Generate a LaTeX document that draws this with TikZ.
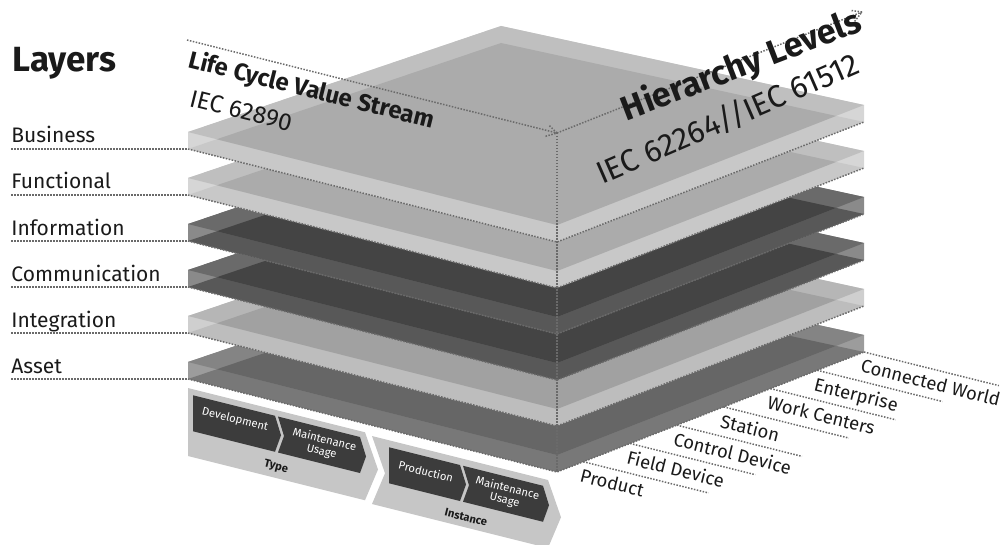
\documentclass[tikz,border=0pt]{standalone}
\usepackage{fontspec}
\setmainfont{Fira Sans}
\usetikzlibrary{calc}
\definecolor{dotgray}{HTML}{6A6A6A}
\definecolor{txt}{HTML}{1A1A1A}
\definecolor{bandgray}{HTML}{C6C6C6}
\definecolor{boxdark}{HTML}{3C3C3C}
% light slabs
\definecolor{lE}{HTML}{D6D6D6}\definecolor{lA}{HTML}{BFBFBF}\definecolor{lB}{HTML}{ABABAB}\definecolor{lC}{HTML}{C8C8C8}
% integration
\definecolor{gE}{HTML}{CFCFCF}\definecolor{gA}{HTML}{B6B6B6}\definecolor{gB}{HTML}{A1A1A1}\definecolor{gC}{HTML}{BDBDBD}
% dark slabs
\definecolor{dE}{HTML}{8A8A8A}\definecolor{dA}{HTML}{6A6A6A}\definecolor{dB}{HTML}{444444}\definecolor{dC}{HTML}{585858}
% asset
\definecolor{aE}{HTML}{9C9C9C}\definecolor{aA}{HTML}{848484}\definecolor{aB}{HTML}{666666}\definecolor{aC}{HTML}{787878}
\newcommand\drawslab[6]{%
\begin{scope}[shift={(0,#2)}]
\coordinate (#1L) at (188,132); \coordinate (#1B) at (501,26);
\coordinate (#1R) at (864,105); \coordinate (#1F) at (557,225);
\coordinate (#1Ld) at (188,149); \coordinate (#1Bd) at (501,43);
\coordinate (#1Rd) at (864,122); \coordinate (#1Fd) at (557,242);
\fill[#3] (#1L)--(#1B)--(#1R)--(#1Rd)--(#1Fd)--(#1Ld)--cycle;
\fill[#6] (#1Ld)--(#1Bd)--(#1Rd)--(#1Fd)--cycle;
\fill[#4] (#1L)--(#1B)--(#1R)--(#1F)--cycle;
\begin{scope}
\clip (#1Ld)--(#1Bd)--(#1Rd)--(#1Fd)--cycle;
\fill[#5] (#1L)--(#1B)--(#1R)--(#1F)--cycle;
\end{scope}
\draw[dotline] (#1Ld)--(#1Fd)--(#1Rd);
\end{scope}}
\begin{document}
\begin{tikzpicture}[x=0.5pt,y=-0.5pt,
  dotline/.style={draw=dotgray, line width=0.75pt, dash pattern=on 0.75pt off 0.75pt},
  lbl/.style={anchor=base west, inner sep=0pt, text=txt, font=\fontsize{10.5}{12}\selectfont},
  hlbl/.style={anchor=north west, inner sep=0pt, text=txt, rotate=-14, font=\fontsize{9.2}{11}\selectfont},
  boxtxt/.style={text=white, inner sep=0pt, rotate=-14, align=center, font=\fontsize{5.6}{6}\selectfont},
  bandtxt/.style={text=txt, inner sep=0pt, rotate=-14, font=\bfseries\fontsize{5.6}{6}\selectfont}]
\useasboundingbox (0,0) rectangle (1000,545);

% layers (bottom first)
\drawslab{ass}{230}{aE}{aA}{aB}{aC}
\drawslab{int}{184}{gE}{gA}{gB}{gC}
\drawslab{com}{138}{dE}{dA}{dB}{dC}
\drawslab{inf}{92}{dE}{dA}{dB}{dC}
\drawslab{fun}{46}{lE}{lA}{lB}{lC}
\drawslab{bus}{0}{lE}{lA}{lB}{lC}

% layer labels
\node[anchor=base west, inner sep=0pt, text=txt, font=\bfseries\fontsize{17.5}{20}\selectfont] (layers) at (12,72) {Layers};
\foreach \n/\t [count=\i from 0] in {bus/Business, fun/Functional, inf/Information, com/Communication, int/Integration, ass/Asset}{
  \node[lbl] (l\n) at (11,143+46*\i) {\t};
  \coordinate (s\n) at (11,149+46*\i);
  \draw[dotline] (s\n) -- (\n Ld);
}

% cube outline with axes
\coordinate (c0) at (187,40);
\coordinate (cF) at (557,133);
\coordinate (cR) at (862,12);
\draw[dotline] (c0) -- (cF);
\draw[dotline] (cF) -- (cR);
\draw[dotline] (cF) -- (assFd);
\draw[dotline] ($(cF)+(-11.5,3.3)$) -- (cF) -- ($(cF)+(-8.6,-8.3)$);
\draw[dotline] ($(cR)+(-7.4,9.4)$) -- (cR) -- ($(cR)+(-11.9,-1.7)$);

\node[anchor=base west, inner sep=0pt, text=txt, rotate=-14, font=\bfseries\fontsize{12}{14}\selectfont] (lcv) at (187,67) {Life Cycle Value Stream};
\node[anchor=base west, inner sep=0pt, text=txt, rotate=-14, font=\fontsize{12.2}{14}\selectfont] (iec1) at (188,106) {IEC 62890};
\node[anchor=base east, inner sep=0pt, text=txt, rotate=21, font=\bfseries\fontsize{17}{19}\selectfont] (hl) at (864,30) {Hierarchy Levels};
\node[anchor=base east, inner sep=0pt, text=txt, rotate=23.5, font=\fontsize{15.6}{17}\selectfont] (iec2) at (862,72) {IEC 62264//IEC 61512};

% hierarchy level labels
\foreach \t/\len [count=\k from 0] in {Connected World/139, Enterprise/129, Work Centers/129, Station/129, Control Device/129, Field Device/129, Product/129}{
  \coordinate (hp\k) at ($(assRd)!{0.1524*\k}!(assFd)$);
  \coordinate (he\k) at ($(hp\k)+({0.9703*\len},{0.2419*\len})$);
  \draw[dotline] (hp\k) -- (he\k);
  \node[hlbl] (hl\k) at ($(hp\k)+(-1,6)$) {\t};
}

% life cycle band
\begin{scope}[shift={(188,388)}, x={(0.5pt,-0.125pt)}, y={(0pt,-0.5pt)}]
\fill[bandgray] (0,0)--(177,0)--(190,34)--(177,68)--(0,68)--cycle;
\fill[bandgray] (184,2)--(360,2)--(373,36)--(360,70)--(184,70)--(197,36)--cycle;
\fill[boxdark] (5,6)--(87,6)--(93,24)--(87,42)--(5,42)--cycle;
\fill[boxdark] (90,6)--(172,6)--(178,24)--(172,42)--(90,42)--(96,24)--cycle;
\fill[boxdark] (201,9)--(272,9)--(278,27)--(272,45)--(201,45)--cycle;
\fill[boxdark] (275,9)--(355,9)--(361,27)--(355,45)--(275,45)--(281,27)--cycle;
\node[boxtxt] (tdev) at (47,20) {Development};
\node[boxtxt] (tmu) at (135,24) {Maintenance\\Usage};
\node[bandtxt] (ttype) at (88,57) {Type};
\node[boxtxt] (iprod) at (238,24) {Production};
\node[boxtxt] (imu) at (318,27) {Maintenance\\Usage};
\node[bandtxt] (iinst) at (278,60) {Instance};
\end{scope}
\end{tikzpicture}
\end{document}
